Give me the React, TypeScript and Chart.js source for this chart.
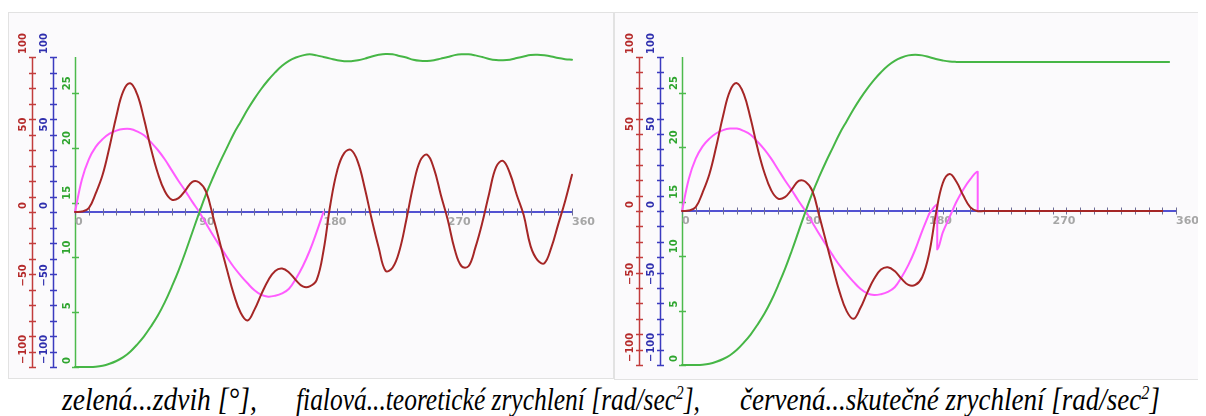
import React, { useEffect, useLayoutEffect, useRef } from 'react';
import { Chart, registerables } from 'chart.js';
Chart.register(...registerables);

// ---------------- data ----------------
const ANGLES = [0, 5, 10, 15, 20, 25, 30, 35, 40, 45, 50, 55, 60, 65, 70, 75, 80, 85, 90, 95,
  100, 105, 110, 115, 120, 125, 130, 135, 140, 145, 150, 155, 160, 165, 170, 175, 180, 185, 190, 195,
  200, 205, 210, 215, 220, 225, 230, 235, 240, 245, 250, 255, 260, 265, 270, 275, 280, 285, 290, 295,
  300, 305, 310, 315, 320, 325, 330, 335, 340, 345, 350, 355, 360];

// left panel: actual acceleration (red) [rad/s^2]
const LEFT_RED = [0, 0.3, 2.5, 12, 24, 42, 62, 78, 83, 76,
  60, 41, 25, 13.5, 8, 9, 14, 19.5, 19, 13,
  -3, -20, -37, -53, -65, -70, -63, -53, -44, -38,
  -36.5, -39, -44, -48, -48, -44, -25, 5, 27, 38,
  40, 32, 15, -5, -23, -38, -36, -25, -5, 17,
  33, 37, 28, 11, -5, -24, -35, -35, -23, -7,
  12, 29, 33, 25, 11, -2, -22, -31, -33, -23,
  -8, 7, 24];

// left panel: lift (green) [deg]
const LEFT_GREEN = [0, 0, 0, 0.03, 0.12, 0.3, 0.55, 0.9, 1.4, 2.05,
  2.8, 3.7, 4.7, 5.9, 7.3, 8.8, 10.5, 12.3, 14.1, 15.8,
  17.3, 18.7, 20.0, 21.3, 22.4, 23.5, 24.5, 25.4, 26.2, 26.9,
  27.5, 27.95, 28.25, 28.45, 28.55, 28.45, 28.3, 28.15, 28.0, 27.92,
  27.92, 28.0, 28.15, 28.35, 28.5, 28.58, 28.55, 28.4, 28.25, 28.05,
  27.95, 27.93, 28.0, 28.15, 28.3, 28.47, 28.55, 28.55, 28.45, 28.3,
  28.12, 28.02, 28.0, 28.05, 28.2, 28.35, 28.48, 28.5, 28.45, 28.35,
  28.2, 28.1, 28.05];

// theoretical acceleration (magenta), 0..180 deg
const THEO_MAGENTA = [0, 21, 34, 42, 47, 50.5, 52.5, 53.5, 53.5, 52,
  49.5, 45, 40, 34, 27, 20, 13.5, 6.5, 0, -7.5,
  -15, -22, -29, -35.5, -41, -46, -50.5, -53.5, -54.6, -54,
  -52.5, -49.5, -43, -35, -25, -13, 0];

// right panel: actual acceleration (red), 0..350 deg
const RIGHT_RED = [0, 0.3, 2.5, 12, 24, 42, 62, 78, 83, 76,
  60, 41, 25, 13.5, 8, 9, 14, 19.5, 19, 13,
  -3, -20, -37, -53, -65, -70, -63, -53, -44, -38,
  -36.5, -39, -44, -48, -48, -43, -28, -2, 18, 24,
  19, 10, 2.5, 0, 0, 0, 0, 0, 0, 0,
  0, 0, 0, 0, 0, 0, 0, 0, 0, 0,
  0, 0, 0, 0, 0, 0, 0, 0, 0, 0,
  0];

// right panel: lift (green), 0..355 deg
const RIGHT_GREEN = [0, 0, 0, 0.03, 0.12, 0.3, 0.55, 0.9, 1.4, 2.05,
  2.8, 3.7, 4.7, 5.9, 7.3, 8.8, 10.5, 12.3, 14.1, 15.8,
  17.3, 18.7, 20.0, 21.3, 22.4, 23.5, 24.5, 25.4, 26.2, 26.9,
  27.5, 27.95, 28.25, 28.45, 28.5, 28.45, 28.3, 28.12, 27.98, 27.88,
  27.85, 27.85, 27.85, 27.85, 27.85, 27.85, 27.85, 27.85, 27.85, 27.85,
  27.85, 27.85, 27.85, 27.85, 27.85, 27.85, 27.85, 27.85, 27.85, 27.85,
  27.85, 27.85, 27.85, 27.85, 27.85, 27.85, 27.85, 27.85, 27.85, 27.85,
  27.85, 27.85];

// right panel: theoretical acceleration (magenta), 0..180 deg, then a jump section
const RIGHT_MAGENTA = [0, 21, 34, 42, 47, 50.5, 52.5, 53.5, 53.5, 52,
  49.5, 45, 40, 34, 27, 20, 13.5, 6.5, 0, -7.5,
  -15, -22, -29, -35.5, -41, -46, -50.5, -53.5, -54.6, -54,
  -52.5, -49.5, -43, -35, -25, -13, -2];
const RIGHT_MAGENTA_TAIL_X = [180, 186, 186, 190, 195, 200, 205, 210, 215.5, 215.5];
const RIGHT_MAGENTA_TAIL_Y = [-2, 4, -25, -14, -4, 6, 14, 20.5, 25.5, 0];

// axes
const ACCEL_TICKS = [-100, -90, -80, -70, -60, -50, -40, -30, -20, -10, 0, 10, 20, 30, 40, 50, 60, 70, 80, 90, 100];
const ACCEL_LABELS = [-100, -50, 0, 50, 100];
const LIFT_TICKS = [0, 5, 10, 15, 20, 25];
const LIFT_MAX = 28.3;
const ANGLE_TICKS = [0, 10, 20, 30, 40, 50, 60, 70, 80, 90, 100, 110, 120, 130, 140, 150, 160, 170, 180,
  190, 200, 210, 220, 230, 240, 250, 260, 270, 280, 290, 300, 310, 320, 330, 340, 350, 360];
const ANGLE_LABELS = [0, 90, 180, 270, 360];

const CAPTION_1 = 'zelená...zdvih [°],';
const CAPTION_2A = 'fialová...teoretické zrychlení [rad/sec';
const CAPTION_3A = 'červená...skutečné zrychlení [rad/sec';

// ---------------- styles ----------------
const C = {
  red: '#a52626',
  magenta: '#ff5cff',
  green: '#46b646',
  redAxis: '#c23c3c',
  redLabel: '#b52a2a',
  blueAxis: '#3b3bbf',
  blueLabel: '#2f2fae',
  greenAxis: '#4cba4c',
  greenLabel: '#2fa52f',
  xAxis: '#5252d2',
  xTick: '#6c6c96',
  xLabel: '#a6a6a6',
  panelBg: '#fbfafc',
  panelBorder: '#e2e2e2',
};

const pts = (xs: number[], ys: number[]) => ys.map((y, i) => ({ x: xs[i], y }));
const fmt = (v: number) => String(v).replace('-', '\u2212');

function vLabel(ctx: CanvasRenderingContext2D, text: string, x: number, y: number) {
  ctx.save();
  ctx.translate(x, y);
  ctx.rotate(-Math.PI / 2);
  ctx.textAlign = 'left';
  ctx.textBaseline = 'middle';
  ctx.fillText(text, 3, 0);
  ctx.restore();
}

function drawVAxis(ctx: CanvasRenderingContext2D, ax: number, scale: any, from: number, to: number,
  ticks: number[], labels: number[], lineColor: string, labelColor: string, labelDx: number) {
  ctx.strokeStyle = lineColor;
  ctx.lineWidth = 1.5;
  ctx.beginPath();
  ctx.moveTo(ax, scale.getPixelForValue(from));
  ctx.lineTo(ax, scale.getPixelForValue(to));
  ctx.stroke();
  ctx.beginPath();
  ticks.forEach((t) => {
    const y = Math.round(scale.getPixelForValue(t)) + 0.5;
    ctx.moveTo(ax - 3.5, y);
    ctx.lineTo(ax + 3.5, y);
  });
  ctx.stroke();
  ctx.fillStyle = labelColor;
  ctx.font = "bold 10px 'DejaVu Sans'";
  labels.forEach((l) => {
    vLabel(ctx, fmt(l), ax + labelDx, scale.getPixelForValue(l));
  });
}

const camAxes = {
  id: 'camAxes',
  beforeDatasetsDraw(chart: any) {
    const { ctx, chartArea, scales } = chart;
    const sx = scales.x, sr = scales.yR, sb = scales.yB, sg = scales.yG;
    const gX = Math.round(chartArea.left) + 0.5;
    const rX = gX - 43;
    const bX = gX - 22;
    ctx.save();
    drawVAxis(ctx, rX, sr, -100, 100, ACCEL_TICKS, ACCEL_LABELS, C.redAxis, C.redLabel, -9);
    drawVAxis(ctx, bX, sb, -100, 100, ACCEL_TICKS, ACCEL_LABELS, C.blueAxis, C.blueLabel, -9);
    drawVAxis(ctx, gX, sg, 0, LIFT_MAX, LIFT_TICKS, LIFT_TICKS, C.greenAxis, C.greenLabel, -8);

    // horizontal angle axis at zero acceleration
    const y0 = Math.round(sr.getPixelForValue(0));
    ctx.strokeStyle = C.xAxis;
    ctx.lineWidth = 2;
    ctx.beginPath();
    ctx.moveTo(sx.getPixelForValue(0), y0);
    ctx.lineTo(sx.getPixelForValue(360), y0);
    ctx.stroke();
    ctx.strokeStyle = C.xTick;
    ctx.lineWidth = 1;
    ctx.beginPath();
    ANGLE_TICKS.forEach((t) => {
      const x = Math.round(sx.getPixelForValue(t)) + 0.5;
      ctx.moveTo(x, y0 - 3.5);
      ctx.lineTo(x, y0 + 3.5);
    });
    ctx.stroke();
    ctx.fillStyle = C.xLabel;
    ctx.font = "bold 11px 'DejaVu Sans'";
    ctx.textAlign = 'left';
    ctx.textBaseline = 'top';
    ANGLE_LABELS.forEach((l) => {
      ctx.fillText(String(l), sx.getPixelForValue(l), y0 + 5);
    });
    ctx.restore();
  },
};

type PanelProps = {
  left: number; top: number; width: number; height: number;
  padding: { left: number; right: number; top: number; bottom: number };
  datasets: any[];
};

function Panel({ left, top, width, height, padding, datasets }: PanelProps) {
  const ref = useRef<HTMLCanvasElement>(null);
  useEffect(() => {
    const chart = new Chart(ref.current as HTMLCanvasElement, {
      type: 'line',
      data: { datasets },
      options: {
        animation: false,
        responsive: false,
        maintainAspectRatio: false,
        devicePixelRatio: 1,
        layout: { padding },
        plugins: { legend: { display: false }, tooltip: { enabled: false } },
        elements: { point: { radius: 0 }, line: { borderCapStyle: 'round', borderJoinStyle: 'round' } },
        scales: {
          x: { type: 'linear', min: 0, max: 360, display: false },
          yR: { type: 'linear', min: -100, max: 100, display: false },
          yB: { type: 'linear', min: -100, max: 100, display: false },
          yG: { type: 'linear', min: 0, max: LIFT_MAX, display: false },
        },
      } as any,
      plugins: [camAxes],
    });
    return () => chart.destroy();
  }, []);
  return (
    <>
      <div style={{
        position: 'absolute', left, top, width, height, boxSizing: 'border-box',
        background: C.panelBg, border: `1px solid ${C.panelBorder}`,
      }} />
      <canvas ref={ref} width={width} height={height}
        style={{ position: 'absolute', left, top, width, height }} />
    </>
  );
}

const line = (data: any[], color: string, yAxisID: string, extra: any = {}) => ({
  data, borderColor: color, borderWidth: 2, pointRadius: 0, fill: false,
  tension: 0.4, clip: false, xAxisID: 'x', yAxisID, ...extra,
});

// caption phrase boxes (page coordinates)
const CAPTION_TARGETS = [
  { left: 62, width: 195 },
  { left: 296, width: 404 },
  { left: 740, width: 420 },
];

export default function App() {
  const capRefs = [useRef<HTMLSpanElement>(null), useRef<HTMLSpanElement>(null), useRef<HTMLSpanElement>(null)];

  useLayoutEffect(() => {
    document.documentElement.style.overflow = 'hidden';
    document.body.style.overflow = 'hidden';
    capRefs.forEach((r, i) => {
      const el = r.current;
      if (!el) return;
      const w = el.offsetWidth;
      if (w > 0) el.style.transform = `scaleX(${CAPTION_TARGETS[i].width / w})`;
    });
  }, []);

  const leftSets = [
    line(pts(ANGLES, LEFT_RED), C.red, 'yR'),
    line(pts(ANGLES, LEFT_GREEN), C.green, 'yG'),
    line(pts(ANGLES, THEO_MAGENTA), C.magenta, 'yB'),
  ];
  const rightSets = [
    line(pts(ANGLES, RIGHT_RED), C.red, 'yR'),
    line(pts(ANGLES, RIGHT_GREEN), C.green, 'yG'),
    line(pts(ANGLES, RIGHT_MAGENTA), C.magenta, 'yB'),
    line(pts(RIGHT_MAGENTA_TAIL_X, RIGHT_MAGENTA_TAIL_Y), C.magenta, 'yB', { cubicInterpolationMode: 'monotone' }),
  ];

  const capStyle: React.CSSProperties = {
    position: 'absolute', top: 384, whiteSpace: 'nowrap', transformOrigin: 'left top',
    fontFamily: "'Liberation Serif', 'Times New Roman', serif", fontStyle: 'italic',
    fontSize: 31, lineHeight: '31px', color: '#000',
  };
  const sup: React.CSSProperties = { fontSize: '0.6em', position: 'relative', top: '-0.6em', verticalAlign: 'baseline' };

  return (
    <div style={{ position: 'relative', width: 1206, height: 416, margin: '-8px 0 0 -8px', background: '#fff' }}>
      <Panel left={8} top={12} width={606} height={367}
        padding={{ left: 67, right: 42, top: 45, bottom: 12 }} datasets={leftSets} />
      <Panel left={614} top={12} width={592} height={368}
        padding={{ left: 68, right: 30, top: 45, bottom: 15 }} datasets={rightSets} />
      <span ref={capRefs[0]} style={{ ...capStyle, left: CAPTION_TARGETS[0].left }}>{CAPTION_1}</span>
      <span ref={capRefs[1]} style={{ ...capStyle, left: CAPTION_TARGETS[1].left }}>{CAPTION_2A}<span style={sup}>2</span>],</span>
      <span ref={capRefs[2]} style={{ ...capStyle, left: CAPTION_TARGETS[2].left }}>{CAPTION_3A}<span style={sup}>2</span>]</span>
    </div>
  );
}
